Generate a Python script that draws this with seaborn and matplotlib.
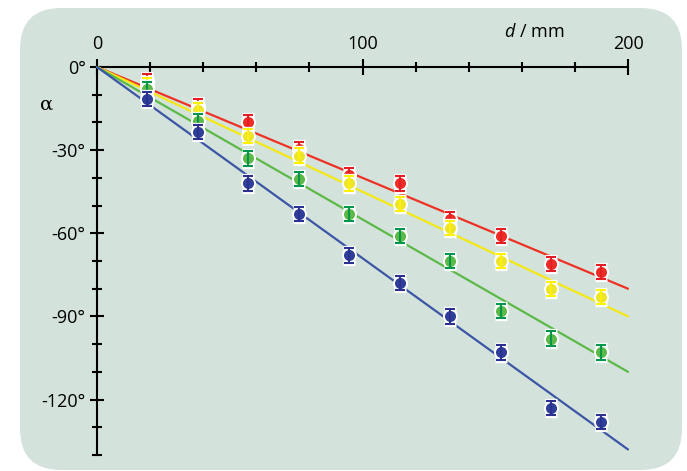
import numpy as np
import pandas as pd
import matplotlib
matplotlib.use("Agg")
import matplotlib.pyplot as plt
import seaborn as sns
from matplotlib.patches import FancyBboxPatch
from matplotlib.ticker import MultipleLocator, FixedLocator

# ---- data ----
d_mm = [19, 38, 57, 76, 95, 114, 133, 152, 171, 190]
alpha_red = [-5, -14, -20, -29.5, -39, -42, -55, -61, -71, -74]
alpha_yellow = [-6.5, -15.5, -25, -32, -42, -49.5, -58, -70, -80, -83]
alpha_green = [-8, -19.5, -33, -40.5, -53, -61, -70, -88, -98, -103]
alpha_blue = [-11.5, -23.5, -42, -53, -68, -78, -90, -103, -123, -128]
alpha_err = 2.6
fit_slopes = [-0.40, -0.45, -0.55, -0.69]   # degrees per mm
fit_range = [0, 200]
x_ticklabels = ["0", "100", "200"]
y_ticks = [0, -30, -60, -90, -120]

series = ["red", "yellow", "green", "blue"]
values = [alpha_red, alpha_yellow, alpha_green, alpha_blue]
line_colors = ["#ee3124", "#f4e814", "#5cb947", "#3c55a5"]
point_colors = ["#ee2d26", "#ede52c", "#5cb947", "#2f3f98"]
err_colors = ["#e31e24", "#fff200", "#00964b", "#2b3190"]

sns.set_theme(style="white")
plt.rcParams["font.family"] = ["Open Sans", "DejaVu Sans"]
plt.rcParams["mathtext.fontset"] = "custom"
plt.rcParams["mathtext.it"] = "Open Sans:italic"
plt.rcParams["mathtext.rm"] = "Open Sans"

fig = plt.figure(figsize=(6.87, 4.71), dpi=100)
fig.patch.set_facecolor("white")
bg = FancyBboxPatch((20 / 687, 1 - 470 / 471), 662 / 687, 462 / 471,
                    boxstyle="round,pad=0,rounding_size=0.06",
                    transform=fig.transFigure, facecolor="#d3e3dc",
                    edgecolor="none", zorder=-10, mutation_aspect=687 / 471)
fig.patches.append(bg)

ax = fig.add_axes([97 / 687, 1 - 455 / 471, 531 / 687, 388 / 471])
ax.set_zorder(5)
ax.set_facecolor("none")
ax.patch.set_alpha(0)

# fit lines
fit_df = pd.concat([
    pd.DataFrame({"d": fit_range, "alpha": [s * x for x in fit_range], "series": name})
    for name, s in zip(series, fit_slopes)
])
sns.lineplot(data=fit_df, x="d", y="alpha", hue="series", palette=dict(zip(series, line_colors)),
             legend=False, linewidth=1.6, ax=ax, zorder=2, clip_on=False)

# points with error bars
for i, (name, vals) in enumerate(zip(series, values)):
    z = 3 + i
    ax.errorbar(d_mm, vals, yerr=alpha_err, fmt="none", ecolor="white", elinewidth=3.8,
                capsize=4.2, capthick=3.8, zorder=z, clip_on=False)
    df = pd.DataFrame({"d": d_mm, "alpha": vals})
    sns.scatterplot(data=df, x="d", y="alpha", color=point_colors[i], s=88,
                    edgecolor="white", linewidth=1.4, ax=ax, zorder=z + 0.1, clip_on=False)
    ax.errorbar(d_mm, vals, yerr=alpha_err, fmt="none", ecolor=err_colors[i], elinewidth=1.4,
                capsize=3.7, capthick=1.5, zorder=z + 0.2, clip_on=False)

ax.set_xlim(0, 200)
ax.set_ylim(-140, 0)
ax.set_xlabel("")
ax.set_ylabel("")

for sp in ["right", "bottom"]:
    ax.spines[sp].set_visible(False)
for sp in ["top", "left"]:
    ax.spines[sp].set_visible(True)
    ax.spines[sp].set_color("black")
    ax.spines[sp].set_linewidth(1.5)
    ax.spines[sp].set_zorder(1)

ax.xaxis.tick_top()
ax.xaxis.set_major_locator(FixedLocator([0, 100, 200]))
ax.set_xticklabels(x_ticklabels)
ax.xaxis.set_minor_locator(MultipleLocator(20))
ax.yaxis.set_major_locator(FixedLocator(y_ticks))
ax.set_yticklabels([f"{v}°" for v in y_ticks])
ax.yaxis.set_minor_locator(MultipleLocator(10))

ax.tick_params(axis="x", which="major", direction="inout", length=11.5, width=1.5,
               colors="black", labelsize=13, pad=4, top=True, bottom=False)
ax.tick_params(axis="x", which="minor", direction="inout", length=7.5, width=1.5,
               colors="black", top=True, bottom=False)
ax.tick_params(axis="y", which="major", direction="inout", length=10.5, width=1.5,
               colors="black", labelsize=13, pad=3, left=True, right=False)
ax.tick_params(axis="y", which="minor", direction="inout", length=7.5, width=1.5,
               colors="black", left=True, right=False)

ax.text(-18.8, -13.7, "α", ha="center", va="center", fontsize=14, color="black",
        family=["DejaVu Serif"], clip_on=False)
ax.text(164.6, 12.7, "$d$ / mm", ha="center", va="center", fontsize=13, color="black",
        clip_on=False)

fig.savefig("out.png", dpi=100, facecolor=fig.get_facecolor())
